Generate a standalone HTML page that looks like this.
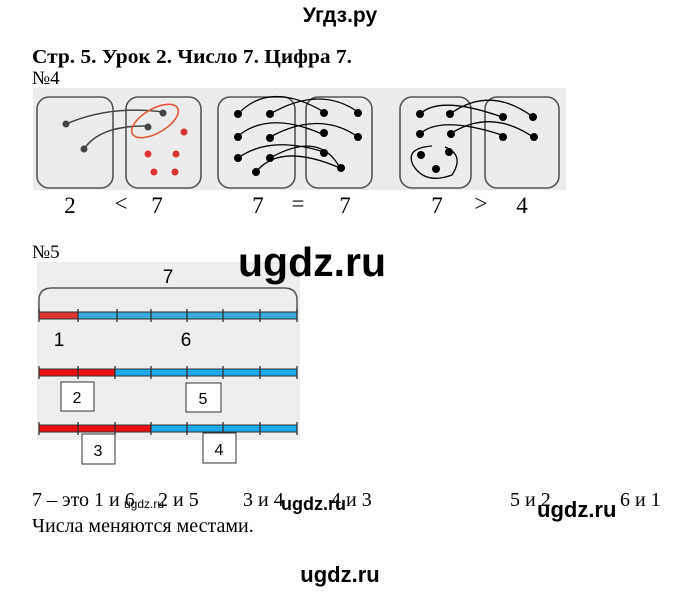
<!DOCTYPE html>
<html><head><meta charset="utf-8"><style>
html,body{margin:0;padding:0;background:#fff}
svg{display:block}
.s{font-family:"Liberation Serif",serif;fill:#000}
.a{font-family:"Liberation Sans",sans-serif;fill:#000}
</style></head><body>
<svg width="680" height="592" viewBox="0 0 680 592" xmlns="http://www.w3.org/2000/svg">
<text x="340" y="22" text-anchor="middle" class="a" font-size="21" font-weight="bold">Угдз.ру</text>
<text x="32" y="63" class="s" font-size="20" font-weight="bold" textLength="320" lengthAdjust="spacingAndGlyphs">Стр. 5. Урок 2. Число 7. Цифра 7.</text>
<text x="32" y="84" class="s" font-size="19">№4</text>
<rect x="33" y="88" width="533" height="102" fill="#ececec"/>
<g fill="none" stroke="#555" stroke-width="1.6">
<rect x="37" y="97" width="76" height="91" rx="12"/>
<rect x="126" y="97" width="75" height="91" rx="12"/>
<rect x="218" y="97" width="77" height="91" rx="12"/>
<rect x="306" y="97" width="66" height="91" rx="12"/>
<rect x="400" y="97" width="71" height="91" rx="12"/>
<rect x="485" y="97" width="74" height="91" rx="12"/>
</g>
<g fill="none" stroke="#444" stroke-width="1.5">
<path d="M66 124 Q110 105 163 112"/><path d="M84 149 Q100 125 148 126"/>
</g>
<ellipse cx="155" cy="121" rx="26" ry="12" transform="rotate(-30 155 121)" fill="none" stroke="#e05a3c" stroke-width="1.6"/>
<g fill="#444"><circle cx="66" cy="124" r="3.5"/><circle cx="84" cy="149" r="3.5"/><circle cx="163" cy="113" r="3.5"/><circle cx="148" cy="127" r="3.5"/></g>
<g fill="#d33"><circle cx="184" cy="132" r="3.5"/><circle cx="148" cy="154" r="3.5"/><circle cx="176" cy="154" r="3.5"/><circle cx="154" cy="172" r="3.5"/><circle cx="175" cy="172" r="3.5"/></g>
<g fill="none" stroke="#000" stroke-width="1.3">
<path d="M238 114 Q270 80 324 112"/><path d="M270 114 Q320 85 358 112"/>
<path d="M238 136 Q270 110 324 135"/><path d="M270 137 Q320 110 358 137"/>
<path d="M238 158 Q270 135 324 152"/><path d="M270 158 Q320 130 340 168"/><path d="M256 172 Q280 142 340 168"/>
<path d="M420 114 Q440 95 502 117"/><path d="M450 114 Q490 85 533 117"/>
<path d="M420 134 Q440 115 502 135"/><path d="M450 134 Q490 108 533 137"/>
<path d="M432 146 Q405 148 413 165 Q425 185 452 175 Q465 155 445 147"/>
</g>
<g fill="#000">
<circle cx="238" cy="114" r="4"/><circle cx="270" cy="114" r="4"/><circle cx="324" cy="113" r="4"/><circle cx="358" cy="113" r="4"/>
<circle cx="238" cy="137" r="4"/><circle cx="270" cy="138" r="4"/><circle cx="324" cy="133" r="4"/><circle cx="358" cy="137" r="4"/>
<circle cx="238" cy="158" r="4"/><circle cx="270" cy="158" r="4"/><circle cx="324" cy="153" r="4"/><circle cx="341" cy="168" r="4"/><circle cx="256" cy="172" r="4"/>
<circle cx="420" cy="114" r="4"/><circle cx="450" cy="114" r="4"/><circle cx="503" cy="117" r="4"/><circle cx="533" cy="117" r="4"/>
<circle cx="420" cy="134" r="4"/><circle cx="451" cy="134" r="4"/><circle cx="503" cy="137" r="4"/><circle cx="534" cy="137" r="4"/>
<circle cx="421" cy="155" r="4"/><circle cx="449" cy="152" r="4"/><circle cx="436" cy="169" r="4"/>
</g>
<g class="s" font-size="23" text-anchor="middle">
<text x="70" y="213">2</text><text x="121" y="211">&lt;</text><text x="157" y="213">7</text>
<text x="258" y="213">7</text><text x="298" y="211">=</text><text x="345" y="213">7</text>
<text x="437" y="213">7</text><text x="481" y="211">&gt;</text><text x="522" y="213">4</text>
</g>
<text x="32" y="258" class="s" font-size="19">№5</text>
<rect x="37" y="262" width="263" height="178" fill="#eeeeee"/>
<text x="168" y="283" class="a" font-size="19" text-anchor="middle" fill="#333">7</text>
<path d="M39 313 V300 Q39 288 52 288 H284 Q297 288 297 300 V313" fill="none" stroke="#555" stroke-width="1.5"/>
<text x="59" y="346" class="a" font-size="19" text-anchor="middle" fill="#333">1</text>
<text x="186" y="346" class="a" font-size="19" text-anchor="middle" fill="#333">6</text>
<g stroke="#333" stroke-width="1">
<rect x="39" y="312" width="39" height="7" fill="#d33"/><rect x="78" y="312" width="219" height="7" fill="#3aa8dd"/>
<rect x="39" y="369" width="76" height="7" fill="#e11"/><rect x="115" y="369" width="182" height="7" fill="#1eaaea"/>
<rect x="39" y="425" width="112" height="7" fill="#e11"/><rect x="151" y="425" width="146" height="7" fill="#1eaaea"/>
</g>
<g stroke="#333" stroke-width="1.3">
<path d="M39 309v13M78 309v13M117 309v13M151 309v13M187 309v13M223 309v13M260 309v13M297 309v13"/>
<path d="M39 366v13M78 366v13M115 366v13M151 366v13M187 366v13M223 366v13M260 366v13M297 366v13"/>
<path d="M39 422v13M78 422v13M115 422v13M151 422v13M187 422v13M223 422v13M260 422v13M297 422v13"/>
</g>
<g fill="#fff" stroke="#333" stroke-width="1">
<rect x="61" y="382" width="33" height="29"/><rect x="186" y="383" width="35" height="29"/>
<rect x="82" y="434" width="33" height="30"/><rect x="203" y="433" width="33" height="30"/>
</g>
<g class="a" font-size="16" text-anchor="middle">
<text x="77" y="403">2</text><text x="203" y="404">5</text><text x="98" y="456">3</text><text x="219" y="455">4</text>
</g>
<text x="312" y="276" class="a" font-size="41" font-weight="bold" text-anchor="middle">ugdz.ru</text>
<g class="s" font-size="20">
<text x="32" y="506">7 – это 1 и 6</text><text x="158" y="506">2 и 5</text>
<text x="243" y="506">3 и 4</text><text x="331" y="506">4 и 3</text>
<text x="510" y="506">5 и 2</text><text x="620" y="506">6 и 1</text>
<text x="32" y="532">Числа меняются местами.</text>
</g>
<text x="124" y="508" class="a" font-size="12">ugdz.ru</text>
<text x="281" y="510" class="a" font-size="18" font-weight="bold">ugdz.ru</text>
<text x="537" y="517" class="a" font-size="22" font-weight="bold">ugdz.ru</text>
<text x="340" y="582" text-anchor="middle" class="a" font-size="22" font-weight="bold">ugdz.ru</text>
</svg>
</body></html>
